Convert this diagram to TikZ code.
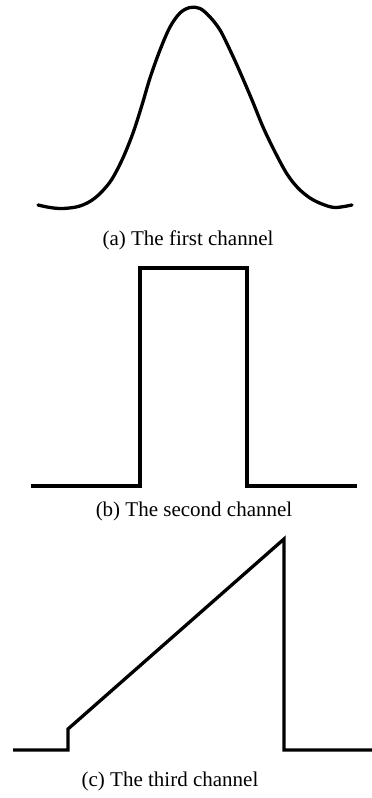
\documentclass[tikz,border=0pt]{standalone}
\usepackage{fontspec}
\setmainfont{Liberation Serif}
\begin{document}
\begin{tikzpicture}[x=1pt,y=-1pt,
  signal/.style={line width=3.3pt,line join=miter,black},
  caption/.style={anchor=base,inner sep=0pt,font=\fontsize{21}{25}\selectfont}]
\useasboundingbox (0,0) rectangle (372,798);
% (a) Gaussian-like pulse
\draw[signal,line cap=round] plot[smooth,tension=0.55] coordinates {
  (38,205) (50,207.5) (63,208.5) (80,206) (95,198) (110,182) (122,160)
  (133,133) (142,105) (150,78) (160,50) (170,27) (180,13) (190,7.5)
  (200,8.5) (210,17) (220,30) (230,50) (240,72) (252,100) (263,127)
  (275,152) (287,174) (298,188) (310,198) (322,204) (335,207.5) (352,205)};
\node[caption] (capa) at (188,245) {(a) The first channel};
% (b) rectangular pulse
\coordinate (b0) at (31,486);
\coordinate (b1) at (140,486);
\coordinate (b2) at (140,268);
\coordinate (b3) at (247,268);
\coordinate (b4) at (247,486);
\coordinate (b5) at (357,486);
\draw[signal] (b0) -- (b1) -- (b2) -- (b3) -- (b4) -- (b5);
\node[caption] (capb) at (194,516) {(b) The second channel};
% (c) ramp pulse
\coordinate (c0) at (13,750);
\coordinate (c1) at (68,750);
\coordinate (c2) at (68,729);
\coordinate (c3) at (284,539);
\coordinate (c4) at (284,750);
\coordinate (c5) at (372,750);
\draw[signal] (c0) -- (c1) -- (c2) -- (c3) -- (c4) -- (c5);
\node[caption] (capc) at (170,786) {(c) The third channel};
\end{tikzpicture}
\end{document}
